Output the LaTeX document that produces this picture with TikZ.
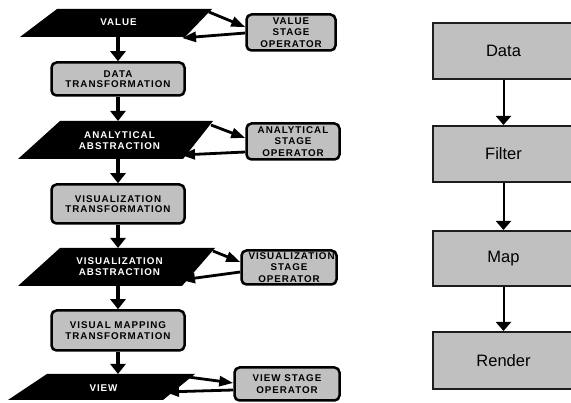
\documentclass[tikz,border=0pt]{standalone}
\usepackage{fontspec}
\setmainfont{Liberation Sans}
\newfontfamily\capsfont[LetterSpace=10]{Liberation Sans}
\usetikzlibrary{arrows.meta}
\definecolor{boxgray}{RGB}{192,192,192}
\definecolor{rborder}{RGB}{30,30,30}
\begin{document}
\begin{tikzpicture}[x=1pt,y=-1pt,
  caps/.style={font=\capsfont\bfseries\fontsize{9.8}{11.3}\selectfont, align=center, inner sep=0pt},
  tcaps/.style={font=\capsfont\bfseries\fontsize{9.8}{10.3}\selectfont},
  paratext/.style={caps, text=white},
  para/.style={fill=black},
  lbox/.style={caps, draw=black, line width=2.5pt, fill=boxgray, rounded corners=5pt},
  tbox/.style={lbox, tcaps},
  rbox/.style={draw=rborder, line width=2pt, fill=boxgray, font=\fontsize{16.5}{18}\selectfont, inner sep=0pt},
  downarrow/.style={line width=4pt, -{Triangle[width=15pt,length=10pt]}},
  sidearrow/.style={line width=2.8pt, -{Triangle[width=10pt,length=14pt]}},
  rarrow/.style={line width=2pt, draw=black, -{Triangle[width=15pt,length=9pt]}}]
\useasboundingbox (0,0) rectangle (571,403);
\clip (0,0) rectangle (571,403);

% ---------- parallelograms ----------
\coordinate (v-tl) at (57,9);   \coordinate (v-tr) at (212,9);
\coordinate (v-br) at (185,37); \coordinate (v-bl) at (20,37);
\fill[para] (v-tl) -- (v-tr) -- (v-br) -- (v-bl) -- cycle;
\node[paratext] (value) at (118.5,22.5) {VALUE};

\coordinate (a-tl) at (60,121);  \coordinate (a-tr) at (213,121);
\coordinate (a-br) at (183,159); \coordinate (a-bl) at (18,159);
\fill[para] (a-tl) -- (a-tr) -- (a-br) -- (a-bl) -- cycle;
\node[paratext] (aa) at (119.5,140.5) {ANALYTICAL\\ABSTRACTION};

\coordinate (s-tl) at (60,248);  \coordinate (s-tr) at (215,248);
\coordinate (s-br) at (182,286); \coordinate (s-bl) at (18,286);
\fill[para] (s-tl) -- (s-tr) -- (s-br) -- (s-bl) -- cycle;
\node[paratext] (va) at (119.5,266.5) {VISUALIZATION\\ABSTRACTION};

\coordinate (w-tl) at (47,374);  \coordinate (w-tr) at (195,374);
\coordinate (w-br) at (163,400); \coordinate (w-bl) at (8,400);
\fill[para] (w-tl) -- (w-tr) -- (w-br) -- (w-bl) -- cycle;
\node[paratext] (view) at (103.5,388) {VIEW};

% ---------- transformation boxes ----------
\node[tbox, minimum width=133pt, minimum height=33pt] (dt) at (118,79) {DATA\\TRANSFORMATION};
\node[tbox, minimum width=133pt, minimum height=39pt] (vt) at (118,204) {VISUALIZATION\\TRANSFORMATION};
\node[tbox, minimum width=133pt, minimum height=40pt] (vm) at (118,330.5) {VISUAL MAPPING\\TRANSFORMATION};

% ---------- operators ----------
\node[lbox, minimum width=89pt, minimum height=36pt] (vso) at (291,32.5) {VALUE\\STAGE\\OPERATOR};
\node[lbox, minimum width=93pt, minimum height=36pt] (aso) at (293,141.5) {ANALYTICAL\\STAGE\\OPERATOR};
\node[lbox, minimum width=95pt, minimum height=34pt, text width=89pt] (sso) at (289,267.5) {\hspace*{4pt}VISUALIZATION\\STAGE\\OPERATOR};
\node[lbox, minimum width=105pt, minimum height=33pt] (wso) at (287,384) {VIEW STAGE\\OPERATOR};

% ---------- down arrows ----------
\coordinate (v-b) at (118,37);   \coordinate (a-t) at (118,121);
\coordinate (a-b) at (118,159);  \coordinate (s-t) at (118,248);
\coordinate (s-b) at (118,286);  \coordinate (w-t) at (118,374);
\draw[downarrow] (v-b) -- (dt.north);
\draw[downarrow] (dt.south) -- (a-t);
\draw[downarrow] (a-b) -- (vt.north);
\draw[downarrow] (vt.south) -- (s-t);
\draw[downarrow] (s-b) -- (vm.north);
\draw[downarrow] (vm.south) -- (w-t);

% ---------- side arrows ----------
\coordinate (v-o1) at (209,12);  \coordinate (v-o2) at (182,38);
\draw[sidearrow] (v-o1) -- ([yshift=5.5pt]vso.west);
\draw[sidearrow] ([yshift=-0.5pt]vso.west) -- (v-o2);

\coordinate (a-o1) at (211,125); \coordinate (a-o2) at (181,155);
\draw[sidearrow] (a-o1) -- ([yshift=3.5pt]aso.west);
\draw[sidearrow] ([yshift=-10.5pt]aso.west) -- (a-o2);

\coordinate (s-o1) at (213,251); \coordinate (s-o2) at (181,280);
\draw[sidearrow] (s-o1) -- ([yshift=5.5pt]sso.west);
\draw[sidearrow] ([yshift=-4.5pt]sso.west) -- (s-o2);

\coordinate (w-o1) at (188,377); \coordinate (w-o2) at (165,392);
\draw[sidearrow] (w-o1) -- ([yshift=1pt]wso.west);
\draw[sidearrow] ([yshift=-6pt]wso.west) -- (w-o2);

% ---------- right pipeline ----------
\node[rbox, minimum width=141pt, minimum height=56pt] (data) at (503.5,51) {Data};
\node[rbox, minimum width=141pt, minimum height=56pt] (filter) at (503.5,154) {Filter};
\node[rbox, minimum width=141pt, minimum height=55pt] (map) at (503.5,258.5) {Map};
\node[rbox, minimum width=141pt, minimum height=57pt] (render) at (503.5,360.5) {Render};
\draw[rarrow] (data) -- (filter);
\draw[rarrow] (filter) -- (map);
\draw[rarrow] (map) -- (render);
\end{tikzpicture}
\end{document}
